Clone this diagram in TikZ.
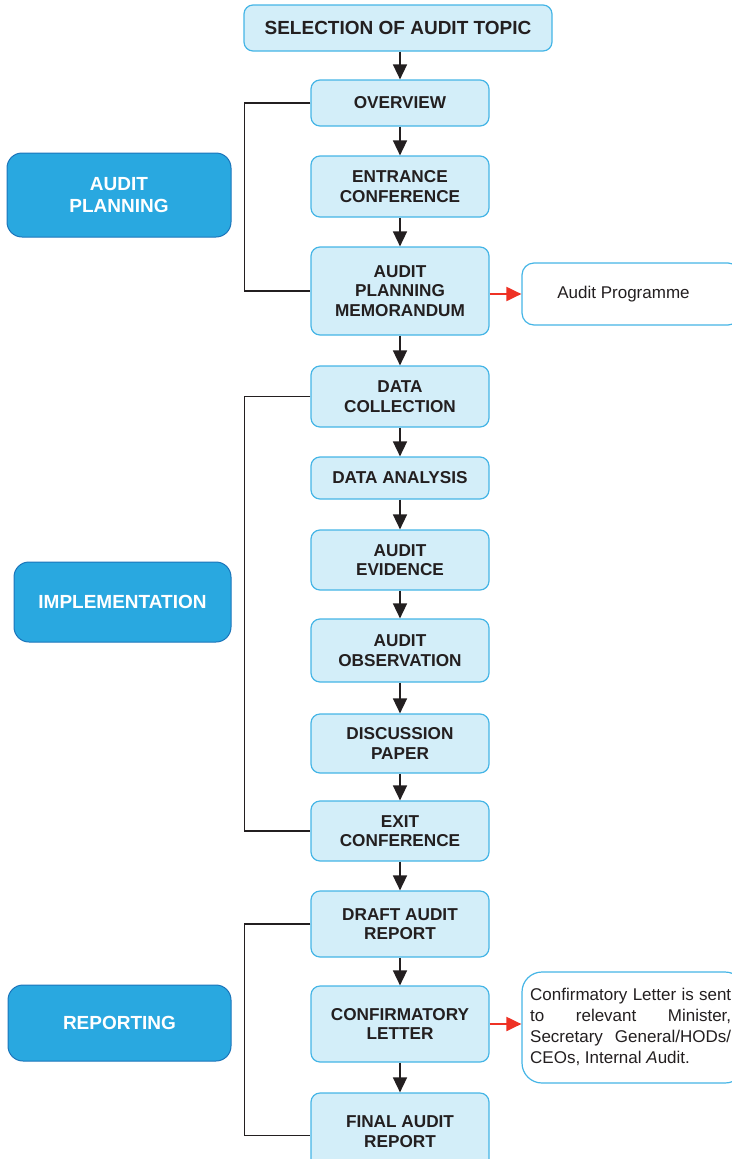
\documentclass[tikz,border=0pt]{standalone}
\usepackage{fontspec}
\setmainfont{Liberation Sans}
\usetikzlibrary{arrows.meta}
\definecolor{stepfill}{HTML}{D3EEF9}
\definecolor{stepline}{HTML}{45B5E6}
\definecolor{phasefill}{HTML}{29A8E0}
\definecolor{phaseline}{HTML}{1B75BB}
\definecolor{ink}{HTML}{231F20}
\definecolor{linkred}{HTML}{EE3124}
\tikzset{
  stepbox/.style={draw=stepline, fill=stepfill, line width=1.2pt, rounded corners=9pt,
    minimum width=178pt, align=center, inner sep=0pt, text=ink,
    font=\fontsize{17.2}{19.5}\selectfont\bfseries},
  phasebox/.style={draw=phaseline, fill=phasefill, line width=1pt, rounded corners=15pt,
    align=center, inner sep=0pt, text=white,
    font=\fontsize{19}{21.5}\selectfont\bfseries},
  notebox/.style={draw=stepline, fill=white, line width=1.2pt, rounded corners=12pt,
    inner sep=0pt, text=ink, font=\fontsize{17}{21}\selectfont},
  flow/.style={draw=ink, line width=1.6pt, -{Triangle[length=15pt,width=14pt]}},
  side/.style={draw=linkred, line width=2pt, -{Triangle[length=15pt,width=14pt]}},
  brace/.style={draw=ink, line width=1.4pt}
}
\begin{document}
\begin{tikzpicture}[x=1pt,y=-1pt]
\useasboundingbox (0,0) rectangle (731,1159);

% main column of steps
\node[stepbox, minimum width=308pt, minimum height=46pt, font=\fontsize{19}{21}\selectfont\bfseries] (sel) at (398,28) {SELECTION OF AUDIT TOPIC};
\node[stepbox, minimum height=46pt] (ov)  at (400,103)   {OVERVIEW};
\node[stepbox, minimum height=61pt] (ent) at (400,186.5) {ENTRANCE\\CONFERENCE};
\node[stepbox, minimum height=88pt] (apm) at (400,291)   {AUDIT\\PLANNING\\MEMORANDUM};
\node[stepbox, minimum height=61pt] (dc)  at (400,396.5) {DATA\\COLLECTION};
\node[stepbox, minimum height=42pt] (da)  at (400,478)   {DATA ANALYSIS};
\node[stepbox, minimum height=60pt] (ae)  at (400,560)   {AUDIT\\EVIDENCE};
\node[stepbox, minimum height=63pt] (ao)  at (400,650.5) {AUDIT\\OBSERVATION};
\node[stepbox, minimum height=59pt] (dp)  at (400,743.5) {DISCUSSION\\PAPER};
\node[stepbox, minimum height=60pt] (ec)  at (400,831)   {EXIT\\CONFERENCE};
\node[stepbox, minimum height=66pt] (dar) at (400,924)   {DRAFT AUDIT\\REPORT};
\node[stepbox, minimum height=76pt] (cl)  at (400,1024)  {CONFIRMATORY\\LETTER};
\node[stepbox, minimum height=77pt] (far) at (400,1131.5){FINAL AUDIT\\REPORT};

% side outputs
\node[notebox, minimum width=218pt, minimum height=62pt] (prog) at (631,294) {};
\node[text=ink, font=\fontsize{17}{21}\selectfont, inner sep=0pt] (progtext) at (623.5,294) {Audit Programme};
\node[notebox, minimum width=223pt, minimum height=111pt, rounded corners=20pt] (note) at (633.5,1027.5) {};
\node[text=ink, font=\fontsize{17}{21}\selectfont, align=left, inner sep=0pt, anchor=west] (notetext) at (530,1027) {%
\makebox[201pt][s]{Confirmatory Letter is sent}\\
\makebox[201pt][s]{to relevant Minister,}\\
\makebox[201pt][s]{Secretary General/HODs/}\\
CEOs, Internal \textit{A}udit.};

% phase labels
\node[phasebox, minimum width=224pt, minimum height=84pt] (ap)   at (119,195)    {AUDIT\\PLANNING};
\node[phasebox, minimum width=217pt, minimum height=80pt] (impl) at (122.5,602)  {IMPLEMENTATION};
\node[phasebox, minimum width=223pt, minimum height=76pt] (rep)  at (119.5,1023) {REPORTING};

% flow arrows
\draw[flow] (ov.north |- sel.south) -- (ov.north);
\foreach \a/\b in {ov/ent, ent/apm, apm/dc, dc/da, da/ae, ae/ao, ao/dp, dp/ec, ec/dar, dar/cl, cl/far}
  \draw[flow] (\a.south) -- (\b.north);

\draw[side] (apm.east |- prog.west) -- (prog.west);
\draw[side] (cl.east) -- (cl.east -| note.west);

% phase brackets
\draw[brace] (ov.west) -- ++(-66,0) |- (apm.west);
\draw[brace] (dc.west) -- ++(-66,0) |- (ec.west);
\draw[brace] (dar.west) -- ++(-66,0) |- ([yshift=-4pt]far.west);
\end{tikzpicture}
\end{document}
